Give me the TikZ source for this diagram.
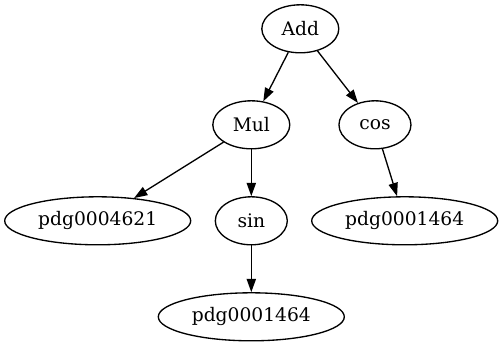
\documentclass[tikz,border=0pt]{standalone}
\usepackage{fontspec}
\setmainfont{DejaVu Serif}
\usetikzlibrary{arrows.meta,positioning,shapes.geometric}

\begin{document}
\begin{tikzpicture}[
x=0.75pt,y=-0.75pt,
on grid,
op/.style={draw,ellipse,line width=1pt,inner sep=0pt,minimum width=54pt,minimum height=36pt,font=\fontsize{14pt}{16pt}\selectfont},
leaf/.style={op,minimum width=139.5pt},
arrow/.style={-{Triangle[length=10pt,width=7pt]},line width=1pt}
]
\useasboundingbox (0,0) rectangle (503,347);
\node[op,minimum width=57.75pt] (add) at (300.3,28.8) {Add};
\node[op,minimum width=57.75pt,below left=72pt and 36.75pt of add] (mul) {Mul};
\node[op,below right=72pt and 56pt of add] (cos) {cos};
\node[leaf,below left=72pt and 115.2pt of mul] (pdga) {pdg0004621};
\node[op,below=72pt of mul] (sin) {sin};
\node[leaf,below right=72pt and 22.3pt of cos] (pdgb) {pdg0001464};
\node[leaf,below=72pt of sin] (pdgc) {pdg0001464};
\draw[arrow] (add)--(mul);
\draw[arrow] (add)--(cos);
\draw[arrow] (mul)--(pdga);
\draw[arrow] (mul)--(sin);
\draw[arrow] (cos)--(pdgb);
\draw[arrow] (sin)--(pdgc);
\end{tikzpicture}
\end{document}
